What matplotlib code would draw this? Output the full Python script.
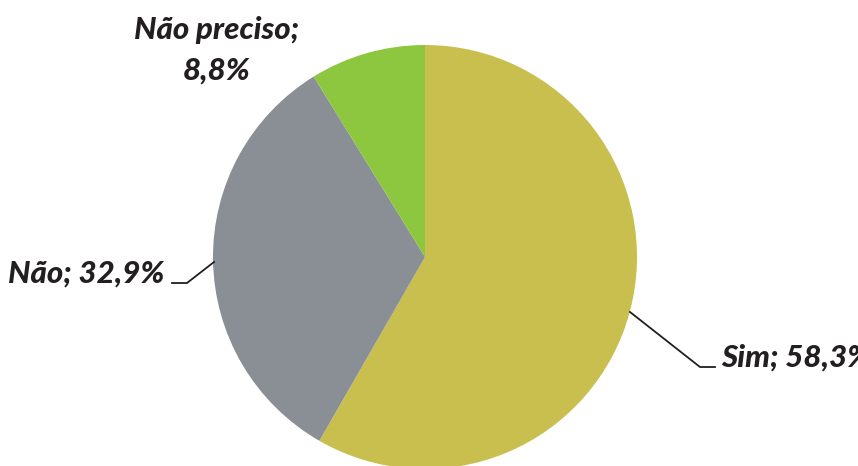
import matplotlib

matplotlib.use("Agg")
import matplotlib.pyplot as plt

labels = ["Sim", "Não", "Não preciso"]
values = [58.3, 32.9, 8.8]
colors = ["#C8BF4E", "#8A8F96", "#8DC63F"]

W, H = 858, 466
fig = plt.figure(figsize=(W / 100, H / 100), dpi=100)
ax = fig.add_axes([0, 0, 1, 1])

cx, cy, r = 425, H - 257, 212
ax.pie(values, colors=colors, startangle=90, counterclock=False,
       center=(cx, cy), radius=r, frame=True,
       wedgeprops={"linewidth": 0})
ax.set_xlim(0, W)
ax.set_ylim(0, H)
ax.set_aspect("equal")
ax.axis("off")

font = dict(family=["Lato", "DejaVu Sans"], weight="black", style="italic",
            size=22.5, color="#231F20")


def fmt(v):
    return f"{v:.1f}".replace(".", ",") + "%"


# Sim (label runs off the right edge, as in the source)
ax.plot([630, 700, 715], [H - 312, H - 367, H - 367], color="#231F20", lw=1.3)
ax.text(721, H - 367, f"{labels[0]}; {fmt(values[0])}", ha="left",
        va="baseline", **font)

# Não
ax.plot([214, 187, 172], [H - 262, H - 283, H - 283], color="#231F20", lw=1.3)
ax.text(164, H - 283, f"{labels[1]}; {fmt(values[1])}", ha="right",
        va="baseline", **font)

# Não preciso
ax.text(217, H - 39, f"{labels[2]};", ha="center", va="baseline", **font)
ax.text(217, H - 80, fmt(values[2]), ha="center", va="baseline", **font)

fig.savefig("out.png", dpi=100)
